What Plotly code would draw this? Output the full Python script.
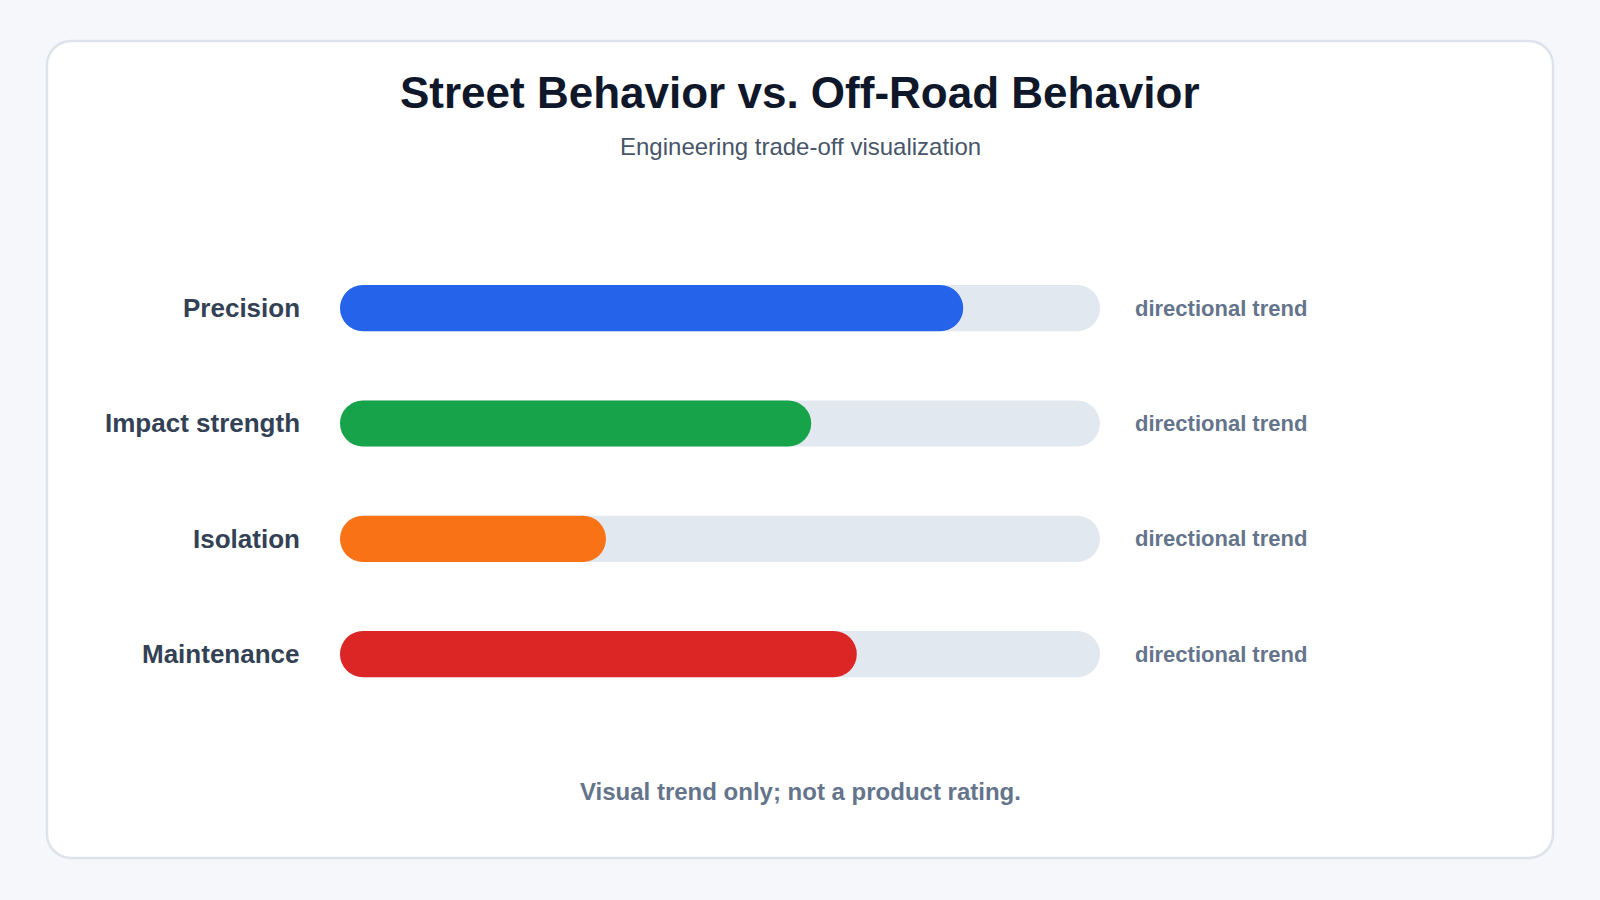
import plotly.graph_objects as go

# Dati
categories = ["Precision", "Impact strength", "Isolation", "Maintenance"]
values = [82, 62, 35, 68]  # % of the track filled
track_max = 100
bar_colors = ["#2563eb", "#16a34a", "#f97316", "#dc2626"]
note_text = "directional trend"

title = "Street Behavior vs. Off-Road Behavior"
subtitle = "Engineering trade-off visualization"
footer = "Visual trend only; not a product rating."

W, H = 1600, 900
FONT = "Liberation Sans, Arial, Helvetica, sans-serif"


def px_x(v):
    return v / W


def px_y(v):
    return 1 - v / H


def rounded_rect(x0, y0, x1, y1, r):
    # card outline in paper coords, corners built with cubic curves
    k = 0.5523 * r
    pts = [
        ("M", [(x0 + r, y0)]),
        ("L", [(x1 - r, y0)]),
        ("C", [(x1 - r + k, y0), (x1, y0 + r - k), (x1, y0 + r)]),
        ("L", [(x1, y1 - r)]),
        ("C", [(x1, y1 - r + k), (x1 - r + k, y1), (x1 - r, y1)]),
        ("L", [(x0 + r, y1)]),
        ("C", [(x0 + r - k, y1), (x0, y1 - r + k), (x0, y1 - r)]),
        ("L", [(x0, y0 + r)]),
        ("C", [(x0, y0 + r - k), (x0 + r - k, y0), (x0 + r, y0)]),
    ]
    out = []
    for cmd, coords in pts:
        out.append(cmd + " ".join(f"{px_x(a):.5f},{px_y(b):.5f}" for a, b in coords))
    return " ".join(out) + " Z"


fig = go.Figure()

# track grigio (base esplicita -> arrotondate entrambe le estremità)
fig.add_trace(go.Bar(
    y=categories, x=[track_max] * len(categories), base=[0] * len(categories),
    orientation="h", width=0.4,
    marker=dict(color="#e2e8f0", cornerradius="50%", line_width=0),
    hoverinfo="skip", showlegend=False,
))

# barre colorate
fig.add_trace(go.Bar(
    y=categories, x=values, base=[0] * len(categories),
    orientation="h", width=0.4,
    marker=dict(color=bar_colors, cornerradius="50%", line_width=0),
    hoverinfo="skip", showlegend=False,
))

row_top, row_bottom = 250.5, 711.8
fig.update_layout(
    width=W, height=H,
    margin=dict(l=0, r=0, t=0, b=0),
    paper_bgcolor="#f5f7fa",
    plot_bgcolor="rgba(0,0,0,0)",
    barmode="overlay",
    font=dict(family=FONT),
    xaxis=dict(domain=[px_x(340), px_x(1100)], range=[0, track_max],
               visible=False, fixedrange=True),
    yaxis=dict(domain=[px_y(row_bottom), px_y(row_top)], type="category",
               categoryorder="array", categoryarray=categories,
               range=[len(categories) - 0.5, -0.5],
               visible=False, fixedrange=True),
    shapes=[dict(type="path", xref="paper", yref="paper", layer="below",
                 path=rounded_rect(47, 41, 1553, 858, 24),
                 fillcolor="#ffffff", line=dict(color="#dde3ea", width=2.5))],
)

annotations = [
    dict(text=title, x=0.5, y=px_y(93), font=dict(size=44, color="#0f172a", weight="bold")),
    dict(text=subtitle, x=0.5, y=px_y(146), font=dict(size=24, color="#475569")),
    dict(text=footer, x=0.5, y=px_y(791), font=dict(size=24, color="#64748b", weight="bold")),
]
for a in annotations:
    a.update(xref="paper", yref="paper", xanchor="center", yanchor="middle", showarrow=False)

for cat in categories:
    annotations.append(dict(text=cat, xref="paper", x=px_x(302), xanchor="right",
                            yref="y", y=cat, yanchor="middle", showarrow=False,
                            font=dict(size=26, color="#334155", weight="bold")))
    annotations.append(dict(text=note_text, xref="paper", x=px_x(1133), xanchor="left",
                            yref="y", y=cat, yanchor="middle", showarrow=False,
                            font=dict(size=22, color="#64748b", weight="bold")))

fig.update_layout(annotations=annotations)

# niente margine del body, così la figura riempie la finestra
fig.write_html("out.html", config={"displayModeBar": False},
               post_script="document.body.style.margin='0';")
